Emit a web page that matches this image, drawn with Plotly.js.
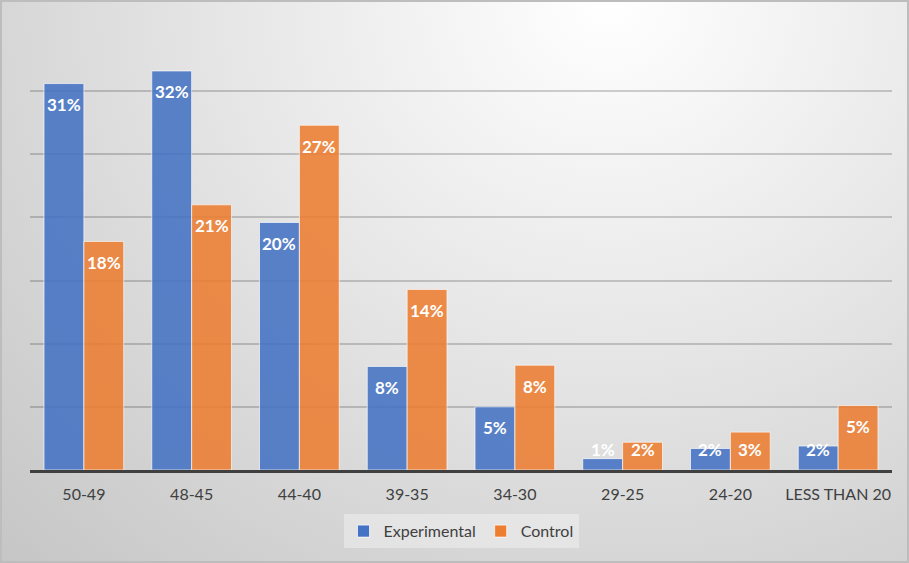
<!DOCTYPE html>
<html>
<head>
<meta charset="utf-8">
<script src="https://cdn.plot.ly/plotly-3.0.1.min.js"></script>
<style>
  html, body { margin: 0; padding: 0; }
  #wrap {
    width: 909px; height: 563px; box-sizing: border-box;
    border: 2px solid #bdbdbd;
    background: radial-gradient(ellipse 95% 140% at 67% 0%, #ffffff 0%, #e6e6e6 45%, #d4d4d4 75%, #c6c6c6 100%);
  }
  #chart { width: 905px; height: 559px; }
</style>
</head>
<body>
<div id="wrap"><div id="chart"></div></div>
<script>
const categories = ["50-49", "48-45", "44-40", "39-35", "34-30", "29-25", "24-20", "LESS THAN 20"];
const experimental = [30.6, 31.6, 19.6, 8.2, 5.0, 0.9, 1.7, 1.9];
const control = [18.1, 21.0, 27.3, 14.3, 8.3, 2.2, 3.0, 5.1];
const seriesNames = ["Experimental", "Control"];
const yTicks = [0, 5, 10, 15, 20, 25, 30, 35];

const font = "Lato, 'Open Sans', sans-serif";
const colors = ["#4472C4", "#ED7D31"];
const series = [experimental, control];

const traces = series.map((vals, i) => ({
  type: "bar",
  name: seriesNames[i],
  x: categories,
  y: vals,
  marker: { color: colors[i], opacity: 0.87, line: { color: "rgba(255,255,255,0.7)", width: 1 } },
  hoverinfo: "x+y+name"
}));

const annotations = [];
series.forEach((vals, i) => {
  vals.forEach((v, j) => {
    annotations.push({
      xref: "x", yref: "y",
      x: categories[j], y: Math.max(v, 3.25),
      xshift: i === 0 ? -20 : 20, yshift: -21,
      yanchor: "middle", xanchor: "center",
      text: Math.round(v) + "%",
      showarrow: false,
      font: { family: font, size: 17, color: "#ffffff", weight: "bold" }
    });
  });
});

const layout = {
  width: 905, height: 559,
  paper_bgcolor: "rgba(0,0,0,0)",
  plot_bgcolor: "rgba(0,0,0,0)",
  margin: { l: 28, r: 15, t: 26, b: 91, pad: 0 },
  barmode: "group",
  bargap: 0.26,
  bargroupgap: 0,
  showlegend: true,
  legend: {
    orientation: "h", x: 0.5, xanchor: "center", y: -0.1, yanchor: "top",
    bgcolor: "rgba(255,255,255,0.35)",
    font: { family: font, size: 16, color: "#404040" },
    itemwidth: 30, traceorder: "normal"
  },
  xaxis: {
    type: "category",
    showline: true, linecolor: "#404040", linewidth: 3,
    ticks: "", showgrid: false,
    tickfont: { family: font, size: 16, color: "#404040" },
    ticklabelstandoff: 8
  },
  yaxis: {
    range: [0, 35], tickvals: yTicks, showticklabels: false,
    showgrid: true, gridcolor: "rgba(0,0,0,0.18)", gridwidth: 2,
    zeroline: false, fixedrange: true
  },
  annotations: annotations,
  font: { family: font }
};

Plotly.newPlot("chart", traces, layout, { displayModeBar: false, staticPlot: true });
</script>
</body>
</html>
